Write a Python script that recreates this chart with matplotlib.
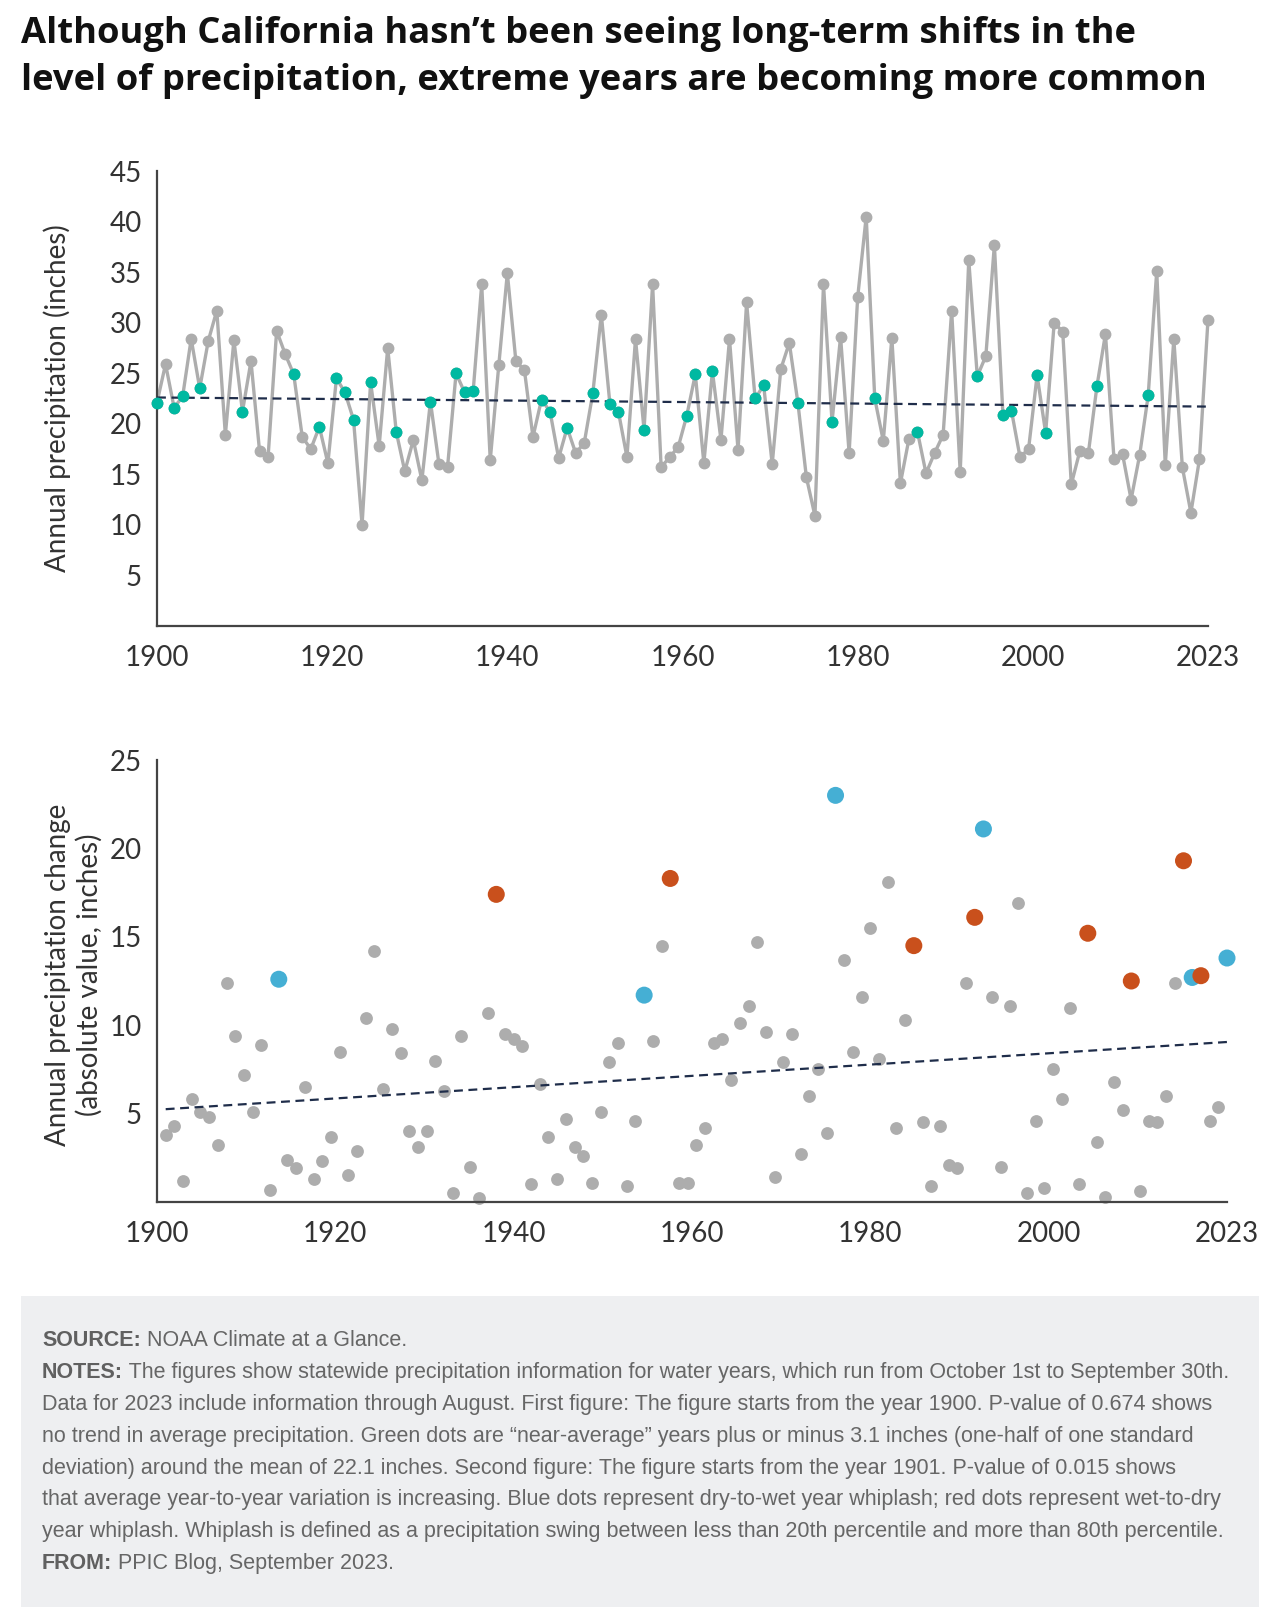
import numpy as np
import matplotlib
matplotlib.use('Agg')
import matplotlib.pyplot as plt
from matplotlib.patches import Rectangle

# ---- data ----
years = list(range(1900, 2024))
precip = [22.1, 25.9, 21.6, 22.7, 28.4, 23.5, 28.2, 31.2, 18.9, 28.3,
          21.2, 26.2, 17.3, 16.7, 29.2, 26.9, 24.9, 18.7, 17.5, 19.7,
          16.1, 24.5, 23.1, 20.4, 10.0, 24.1, 17.8, 27.5, 19.2, 15.3,
          18.4, 14.4, 22.2, 16.0, 15.7, 25.0, 23.1, 23.2, 33.8, 16.4,
          25.8, 34.9, 26.2, 25.3, 18.7, 22.4, 21.2, 16.6, 19.6, 17.1,
          18.1, 23.0, 30.8, 22.0, 21.2, 16.7, 28.4, 19.4, 33.8, 15.7,
          16.7, 17.7, 20.8, 24.9, 16.1, 25.2, 18.4, 28.4, 17.4, 32.0,
          22.5, 23.8, 16.0, 25.4, 28.0, 22.1, 14.7, 10.9, 33.8, 20.2,
          28.6, 17.1, 32.5, 40.5, 22.5, 18.3, 28.5, 14.1, 18.5, 19.2,
          15.1, 17.1, 18.9, 31.2, 15.2, 36.2, 24.7, 26.7, 37.7, 20.9,
          21.3, 16.7, 17.5, 24.8, 19.1, 30.0, 29.1, 14.0, 17.3, 17.1,
          23.7, 28.9, 16.5, 17.0, 12.5, 16.9, 22.8, 35.1, 15.9, 28.4,
          15.7, 11.2, 16.5, 30.3]
near_avg_years = [1900, 1902, 1903, 1905, 1910, 1916, 1919, 1921, 1922, 1923,
                  1925, 1928, 1932, 1935, 1936, 1937, 1945, 1946, 1948, 1951,
                  1953, 1954, 1957, 1962, 1963, 1965, 1970, 1971, 1975, 1979,
                  1984, 1989, 1996, 1999, 2000, 2003, 2004, 2010, 2016]
trend_top = [22.6, 21.7]

years2 = list(range(1901, 2024))
change = [3.8, 4.3, 1.2, 5.8, 5.1, 4.8, 3.2, 12.4, 9.4, 7.2,
          5.1, 8.9, 0.7, 12.6, 2.4, 1.9, 6.5, 1.3, 2.3, 3.7,
          8.5, 1.5, 2.9, 10.4, 14.2, 6.4, 9.8, 8.4, 4.0, 3.1,
          4.0, 8.0, 6.3, 0.5, 9.4, 2.0, 0.2, 10.7, 17.4, 9.5,
          9.2, 8.8, 1.0, 6.7, 3.7, 1.3, 4.7, 3.1, 2.6, 1.1,
          5.1, 7.9, 9.0, 0.9, 4.6, 11.7, 9.1, 14.5, 18.3, 1.1,
          1.1, 3.2, 4.2, 9.0, 9.2, 6.9, 10.1, 11.1, 14.7, 9.6,
          1.4, 7.9, 9.5, 2.7, 6.0, 7.5, 3.9, 23.0, 13.7, 8.5,
          11.6, 15.5, 8.1, 18.1, 4.2, 10.3, 14.5, 4.5, 0.9, 4.3,
          2.1, 1.9, 12.4, 16.1, 21.1, 11.6, 2.0, 11.1, 16.9, 0.5,
          4.6, 0.8, 7.5, 5.8, 11.0, 1.0, 15.2, 3.4, 0.3, 6.8,
          5.2, 12.5, 0.6, 4.6, 4.5, 6.0, 12.4, 19.3, 12.7, 12.8,
          4.6, 5.4, 13.8]
dry_to_wet = [1914, 1956, 1978, 1995, 2019, 2023]
wet_to_dry = [1939, 1959, 1987, 1994, 2007, 2012, 2018, 2020]
trend_bottom = [5.25, 9.05]

tick_labels = ['1900', '1920', '1940', '1960', '1980', '2000', '2023']

GRAY = '#ADADAD'
GREEN = '#00B9A1'
BLUE = '#45AFD4'
RED = '#C9501C'
NAVY = '#1F2D4A'
TXT = '#333333'

plt.rcParams['font.family'] = ['Lato', 'DejaVu Sans']

W, H = 1280, 1618
fig = plt.figure(figsize=(W / 100, H / 100), dpi=100)


def box(left, top, right, bottom):
    return [left / W, 1 - bottom / H, (right - left) / W, (bottom - top) / H]


def style(ax, ymax, yticks):
    for s in ['top', 'right']:
        ax.spines[s].set_visible(False)
    for s in ['left', 'bottom']:
        ax.spines[s].set_color('#444444')
        ax.spines[s].set_linewidth(1.6)
    ax.set_xlim(1900, 2023)
    ax.set_ylim(0, ymax)
    ax.set_xticks(np.linspace(1900, 2023, 7))
    ax.set_xticklabels(tick_labels)
    ax.set_yticks(yticks)
    ax.tick_params(length=0, labelsize=20, colors=TXT, pad=11)
    ax.tick_params(axis='x', pad=14)


# ---- top chart ----
ax1 = fig.add_axes(box(157, 171, 1208, 626))
style(ax1, 45, [5, 10, 15, 20, 25, 30, 35, 40, 45])
ax1.plot(years, precip, color=GRAY, lw=2.4, marker='o', ms=7.5,
         zorder=2, clip_on=False)
ax1.plot([1900, 2023], trend_top, color=NAVY, lw=1.6, ls=(0, (4, 2.5)),
         zorder=3, clip_on=False)
gx = [y for y in years if y in near_avg_years]
gy = [v for y, v in zip(years, precip) if y in near_avg_years]
ax1.plot(gx, gy, ls='none', marker='o', ms=7.5, color=GREEN, zorder=4,
         clip_on=False)

# ---- bottom chart ----
ax2 = fig.add_axes(box(157, 760, 1227, 1202))
style(ax2, 25, [5, 10, 15, 20, 25])
cols = []
for y in years2:
    if y in dry_to_wet:
        cols.append(BLUE)
    elif y in wet_to_dry:
        cols.append(RED)
    else:
        cols.append(GRAY)
gray_idx = [i for i, c in enumerate(cols) if c == GRAY]
hi_idx = [i for i, c in enumerate(cols) if c != GRAY]
ax2.scatter([years2[i] for i in gray_idx], [change[i] for i in gray_idx],
            s=85, color=GRAY, lw=0, zorder=2, clip_on=False)
ax2.plot([1901, 2023], trend_bottom, color=NAVY, lw=1.6, ls=(0, (4, 2.5)),
         zorder=3)
ax2.scatter([years2[i] for i in hi_idx], [change[i] for i in hi_idx],
            s=150, color=[cols[i] for i in hi_idx], lw=0, zorder=4,
            clip_on=False)

# ---- axis titles ----
fig.text(57 / W, 1 - 398 / H, 'Annual precipitation (inches)', rotation=90,
         ha='center', va='center', fontsize=20, color=TXT)
fig.text(74 / W, 1 - 975 / H,
         'Annual precipitation change\n(absolute value, inches)',
         rotation=90, ha='center', va='center', fontsize=20, color=TXT,
         linespacing=1.25, multialignment='center')

# ---- title ----
fig.text(21 / W, 1 - 43 / H,
         'Although California hasn\u2019t been seeing long-term shifts in the',
         ha='left', va='baseline', fontsize=26.2, fontweight='bold',
         color='#111111', family=['Open Sans', 'DejaVu Sans'])
fig.text(21 / W, 1 - 90 / H,
         'level of precipitation, extreme years are becoming more common',
         ha='left', va='baseline', fontsize=26.2, fontweight='bold',
         color='#111111', family=['Open Sans', 'DejaVu Sans'])

# ---- footer ----
fig.patches.append(Rectangle((21 / W, 1 - 1607 / H), (1259 - 21) / W,
                             (1607 - 1296) / H, transform=fig.transFigure,
                             facecolor='#EEEFF1', edgecolor='none', zorder=0))

footer = [
    ('SOURCE:', ' NOAA Climate at a Glance.'),
    ('NOTES:', ' The figures show statewide precipitation information for water years, which run from October 1st to September 30th.'),
    ('', 'Data for 2023 include information through August. First figure: The figure starts from the year 1900. P-value of 0.674 shows'),
    ('', 'no trend in average precipitation. Green dots are \u201cnear-average\u201d years plus or minus 3.1 inches (one-half of one standard'),
    ('', 'deviation) around the mean of 22.1 inches. Second figure: The figure starts from the year 1901. P-value of 0.015 shows'),
    ('', 'that average year-to-year variation is increasing. Blue dots represent dry-to-wet year whiplash; red dots represent wet-to-dry'),
    ('', 'year whiplash. Whiplash is defined as a precipitation swing between less than 20th percentile and more than 80th percentile.'),
    ('FROM:', ' PPIC Blog, September 2023.'),
]
renderer = fig.canvas.get_renderer()
fs = 15.5
y0 = 1346
step = 31.9
for k, (lab, body) in enumerate(footer):
    yy = 1 - (y0 + k * step) / H
    x = 42 / W
    if lab:
        t = fig.text(x, yy, lab, ha='left', va='baseline', fontsize=fs,
                     fontweight='bold', color='#606060',
                     family='Liberation Sans')
        bb = t.get_window_extent(renderer=renderer)
        x = bb.x1 / W
    fig.text(x, yy, body, ha='left', va='baseline', fontsize=fs,
             color='#666666', family='Liberation Sans')

fig.savefig('out.png', dpi=100)
